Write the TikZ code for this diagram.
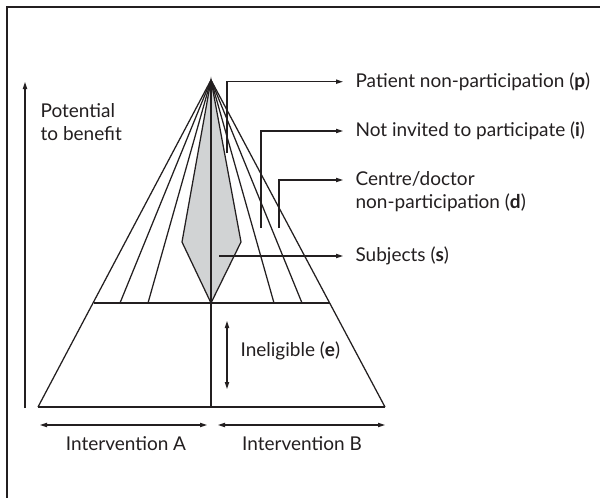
\documentclass[tikz,border=0pt]{standalone}
\usepackage{fontspec}
\setmainfont{Lato}
\usetikzlibrary{arrows.meta}
\definecolor{ink}{HTML}{231F20}
\definecolor{shade}{HTML}{D1D3D4}
\begin{document}
\begin{tikzpicture}[x=1pt,y=-1pt,
  line width=1.2pt, draw=ink,
  thin line/.style={line width=1.25pt, draw=ink},
  tip/.style={-{Triangle[length=7pt,width=4.2pt]}},
  both tips/.style={{Triangle[length=7pt,width=4.2pt]}-{Triangle[length=7pt,width=4.2pt]}},
  lbl/.style={anchor=base west, inner sep=0pt, text=ink, font=\fontsize{19}{23}\selectfont, align=left},
  clbl/.style={anchor=base, inner sep=0pt, text=ink, font=\fontsize{19}{23}\selectfont}]
\useasboundingbox (0,0) rectangle (600,498);
\fill[white] (0,0) rectangle (600,498);

% outer frame (top and left edges)
\draw[line width=1.6pt, ink] (7,498) -- (7,7) -- (600,7);

% key points of the pyramid
\coordinate (apex) at (211,80);
\coordinate (bl) at (38,407);
\coordinate (br) at (385,407);
\coordinate (bm) at (211,407);
\coordinate (ml) at (94.4,303);
\coordinate (mr) at (329.5,303);
\coordinate (mm) at (211,303);
\coordinate (dl) at (182,242);
\coordinate (dr) at (241,242);

% shaded subject diamond
\filldraw[fill=shade, thin line] (apex) -- (dl) -- (mm) -- (dr) -- cycle;

% fan lines from the apex
\foreach \xx/\nm in {120/fa,148/fb,274/fc,302/fd} {
  \coordinate (\nm) at (\xx,303);
  \draw[thin line] (apex) -- (\nm);
}

% pyramid outline and divisions
\draw[thin line] (bl) -- (apex) -- (br);
\draw[thin line] (bl) -- (br);
\draw[thin line] (ml) -- (mr);
\draw[thin line] (apex) -- (bm);

% vertical axis
\coordinate (axb) at (25,408);
\coordinate (axt) at (25,82);
\draw[thin line, tip] (axb) -- (axt);
\node[lbl] (pot) at (40,140) {Potential\\to benefit};

% labels on the right
\node[lbl] (lp) at (355,87.5) {Patient non-participation (\textbf{p})};
\node[lbl] (li) at (355,136.5) {Not invited to participate (\textbf{i})};
\node[lbl] (ld) at (355,208.5) {Centre/doctor\\non-participation (\textbf{d})};
\node[lbl] (ls) at (355,261.5) {Subjects (\textbf{s})};

\coordinate (ps) at (227,153);
\coordinate (pe) at (343,81.7);
\coordinate (is) at (261,228);
\coordinate (ie) at (343,131);
\coordinate (ds) at (279,228);
\coordinate (de) at (343,180);
\coordinate (ss) at (219,256);
\coordinate (se) at (343,256);
\draw[thin line, tip] (ps) |- (pe);
\draw[thin line, tip] (is) |- (ie);
\draw[thin line, tip] (ds) |- (de);
\draw[thin line, tip] (ss) -- (se);

% ineligible band
\coordinate (et) at (227,321);
\coordinate (eb) at (227,389);
\draw[thin line, both tips] (et) -- (eb);
\node[lbl] (le) at (240,356) {Ineligible (\textbf{e})};

% intervention arms
\coordinate (al) at (40,425);
\coordinate (ar) at (207,425);
\coordinate (bl2) at (218,425);
\coordinate (br2) at (385,425);
\draw[thin line, both tips] (al) -- (ar);
\draw[thin line, both tips] (bl2) -- (br2);
\node[clbl] (ia) at (126,450) {Intervention A};
\node[clbl] (ib) at (302,450) {Intervention B};
\end{tikzpicture}
\end{document}
